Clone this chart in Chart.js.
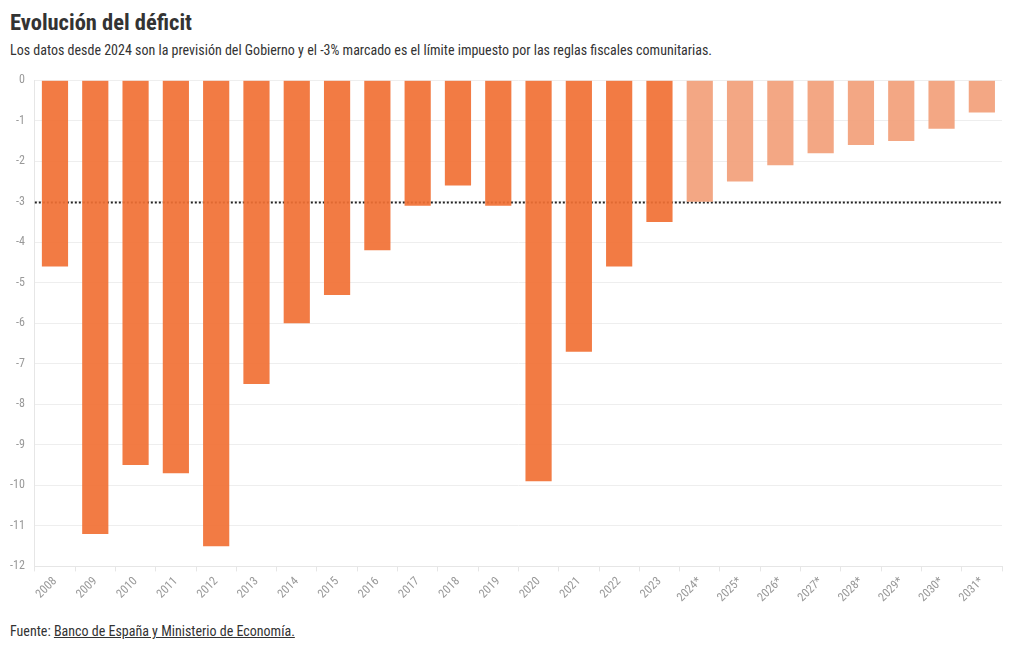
<!DOCTYPE html>
<html>
<head>
<meta charset="utf-8">
<script src="https://cdn.jsdelivr.net/npm/chart.js@4"></script>
<style>
  body { margin: 0; background: #fff; font-family: "Roboto Condensed", "Liberation Sans Narrow", Roboto, sans-serif; color: #333; }
  #titulo { position: absolute; left: 10px; top: 9px; font-size: 22.5px; font-weight: bold; margin: 0; }
  #subtitulo { position: absolute; left: 10px; top: 42px; font-size: 14px; margin: 0; }
  #fuente { position: absolute; left: 10px; top: 623px; font-size: 14px; margin: 0; }
  #fuente a { color: #333; }
  #contenedor { position: absolute; left: 0; top: 63px; width: 1010px; height: 545px; }
</style>
</head>
<body>
<h1 id="titulo">Evolución del déficit</h1>
<p id="subtitulo">Los datos desde 2024 son la previsión del Gobierno y el -3% marcado es el límite impuesto por las reglas fiscales comunitarias.</p>
<div id="contenedor"><canvas id="grafico"></canvas></div>
<p id="fuente">Fuente: <a href="#">Banco de España y Ministerio de Economía.</a></p>
<script>
const anios = ['2008','2009','2010','2011','2012','2013','2014','2015','2016','2017','2018','2019','2020','2021','2022','2023',
  '2024*','2025*','2026*','2027*','2028*','2029*','2030*','2031*'];
const deficit = [-4.6, -11.2, -9.5, -9.7, -11.5, -7.5, -6.0, -5.3, -4.2, -3.1, -2.6, -3.1, -9.9, -6.7, -4.6, -3.5,
  -3.0, -2.5, -2.1, -1.8, -1.6, -1.5, -1.2, -0.8];
const limite = -3;
const ticksY = [0, -1, -2, -3, -4, -5, -6, -7, -8, -9, -10, -11, -12];

const colores = anios.map(a => a.includes('*') ? 'rgba(242,160,122,0.92)' : 'rgba(241,112,52,0.92)');

const lineaLimite = {
  id: 'lineaLimite',
  beforeDatasetsDraw(chart) {
    const { ctx, chartArea, scales } = chart;
    const y = Math.round(scales.y.getPixelForValue(limite)) + 0.5;
    ctx.save();
    ctx.strokeStyle = '#222';
    ctx.lineWidth = 2;
    ctx.setLineDash([2, 2]);
    ctx.beginPath();
    ctx.moveTo(chartArea.left, y);
    ctx.lineTo(chartArea.right, y);
    ctx.stroke();
    ctx.restore();
  }
};

const fuente = '"Roboto Condensed", "Liberation Sans Narrow", Roboto, sans-serif';

new Chart(document.getElementById('grafico'), {
  type: 'bar',
  data: {
    labels: anios,
    datasets: [{
      label: 'Déficit',
      data: deficit,
      backgroundColor: colores,
      barPercentage: 0.65,
      categoryPercentage: 1
    }]
  },
  options: {
    responsive: true,
    maintainAspectRatio: false,
    animation: false,
    layout: { padding: { top: 5, right: 8 } },
    plugins: { legend: { display: false }, tooltip: { enabled: false } },
    scales: {
      x: {
        grid: { drawOnChartArea: false, drawTicks: true, tickLength: 5, color: '#e6e6e6' },
        border: { color: '#e6e6e6' },
        ticks: { color: '#999', font: { family: fuente, size: 12 }, maxRotation: 45, minRotation: 45 }
      },
      y: {
        min: -12,
        max: 0,
        afterBuildTicks: axis => { axis.ticks = ticksY.map(v => ({ value: v })); },
        grid: { color: '#eeeeee', drawTicks: false },
        border: { display: true, color: '#e6e6e6' },
        ticks: { color: '#999', font: { family: fuente, size: 12 }, padding: 10 }
      }
    }
  },
  plugins: [lineaLimite]
});
</script>
</body>
</html>
